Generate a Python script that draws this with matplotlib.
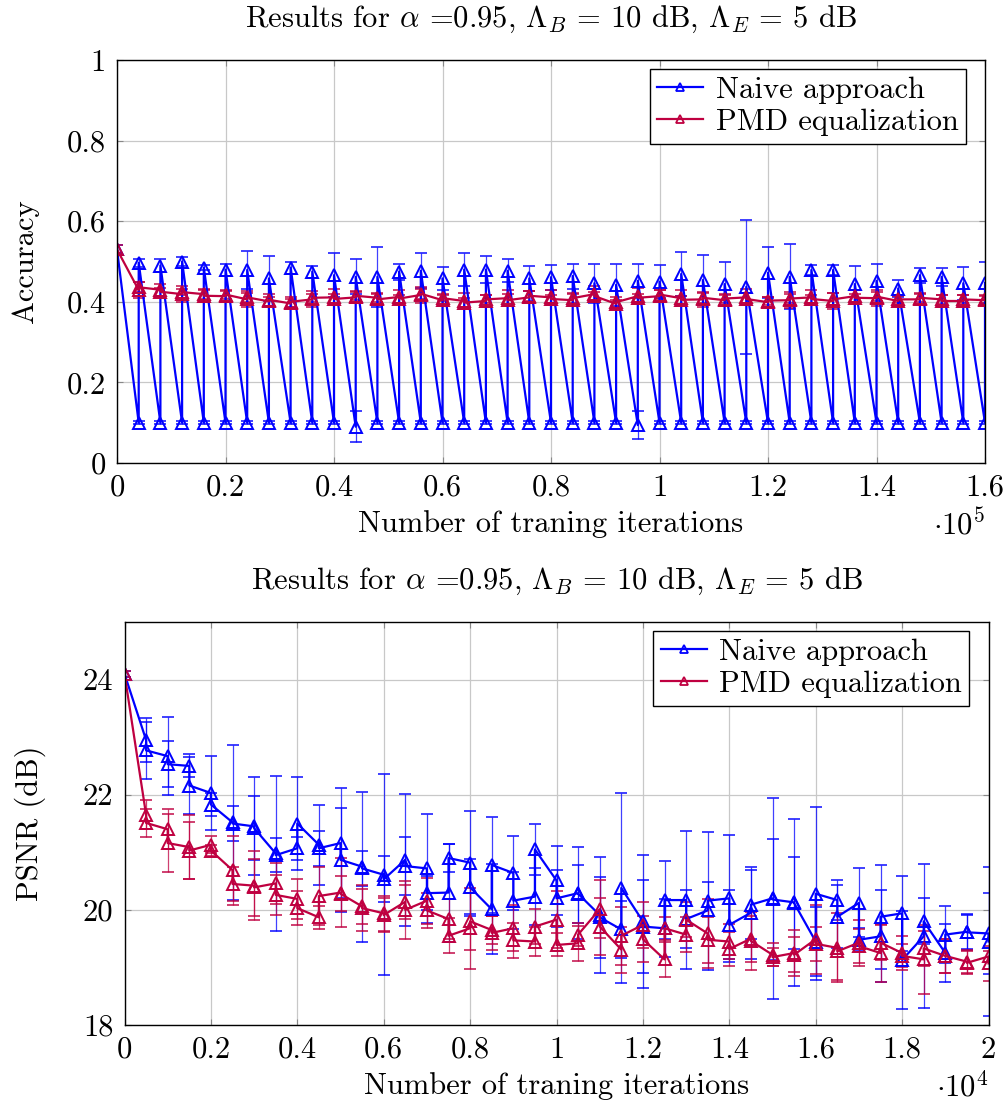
import numpy as np
import matplotlib
matplotlib.use("Agg")
import matplotlib.pyplot as plt
from matplotlib.ticker import FuncFormatter
from matplotlib.lines import Line2D

plt.rcParams['font.family'] = 'serif'
plt.rcParams['font.serif'] = ['cmr10', 'DejaVu Serif']
plt.rcParams['mathtext.fontset'] = 'cm'
plt.rcParams['axes.formatter.use_mathtext'] = True
plt.rcParams['axes.unicode_minus'] = False

BLUE = '#0000ff'
RED = '#bf0040'
FS = 22

# ---------------- accuracy data (top) ----------------
acc_iters = list(range(4000, 160001, 4000))
acc_start = 0.53
naive_acc_low = [0.1, 0.1, 0.1, 0.1, 0.1, 0.1, 0.1, 0.1, 0.1, 0.1,
                 0.09, 0.1, 0.1, 0.1, 0.1, 0.1, 0.1, 0.1, 0.1, 0.1,
                 0.1, 0.1, 0.1, 0.094, 0.1, 0.1, 0.1, 0.1, 0.1, 0.1,
                 0.1, 0.1, 0.1, 0.1, 0.1, 0.1, 0.1, 0.1, 0.1, 0.1]
naive_acc_low_err = [0.004] * 10 + [0.038] + [0.004] * 12 + [0.035] + [0.004] * 16
naive_acc_high = [0.497, 0.490, 0.500, 0.485, 0.480, 0.479, 0.458, 0.485, 0.475, 0.466,
                  0.462, 0.462, 0.475, 0.477, 0.458, 0.480, 0.480, 0.477, 0.458, 0.461,
                  0.464, 0.446, 0.442, 0.452, 0.450, 0.469, 0.454, 0.444, 0.437, 0.472,
                  0.462, 0.479, 0.479, 0.444, 0.452, 0.433, 0.466, 0.462, 0.446, 0.447]
naive_acc_high_err = [0.010, 0.016, 0.010, 0.006, 0.015, 0.048, 0.056, 0.015, 0.015, 0.054,
                      0.043, 0.075, 0.020, 0.043, 0.029, 0.040, 0.034, 0.029, 0.031, 0.031,
                      0.031, 0.048, 0.052, 0.043, 0.041, 0.054, 0.061, 0.054, 0.166, 0.063,
                      0.081, 0.012, 0.012, 0.044, 0.043, 0.021, 0.019, 0.023, 0.041, 0.053]
pmd_acc_a = [0.429, 0.430, 0.419, 0.419, 0.414, 0.406, 0.401, 0.396, 0.406, 0.411,
             0.411, 0.410, 0.412, 0.417, 0.404, 0.402, 0.402, 0.409, 0.411, 0.411,
             0.404, 0.419, 0.395, 0.414, 0.414, 0.409, 0.406, 0.404, 0.411, 0.399,
             0.404, 0.411, 0.402, 0.414, 0.409, 0.402, 0.406, 0.406, 0.402, 0.404]
pmd_acc_b = [0.436, 0.425, 0.424, 0.415, 0.418, 0.411, 0.405, 0.400, 0.410, 0.407,
             0.415, 0.406, 0.408, 0.420, 0.409, 0.398, 0.406, 0.404, 0.415, 0.407,
             0.409, 0.414, 0.399, 0.410, 0.418, 0.405, 0.410, 0.408, 0.407, 0.403,
             0.408, 0.407, 0.406, 0.410, 0.413, 0.406, 0.410, 0.402, 0.406, 0.408]
pmd_acc_a_err = [0.02, 0.015, 0.02, 0.012, 0.015, 0.02, 0.012, 0.01, 0.02, 0.02,
                 0.015, 0.01, 0.018, 0.02, 0.015, 0.02, 0.015, 0.02, 0.015, 0.018,
                 0.015, 0.02, 0.01, 0.02, 0.015, 0.02, 0.018, 0.015, 0.02, 0.012,
                 0.02, 0.018, 0.02, 0.015, 0.02, 0.012, 0.015, 0.012, 0.015, 0.01]
pmd_acc_b_err = [0.012, 0.01, 0.008, 0.015, 0.01, 0.012, 0.015, 0.012, 0.01, 0.012,
                 0.01, 0.015, 0.01, 0.012, 0.008, 0.012, 0.01, 0.015, 0.012, 0.01,
                 0.012, 0.01, 0.012, 0.01, 0.012, 0.01, 0.012, 0.01, 0.015, 0.01,
                 0.012, 0.01, 0.015, 0.01, 0.012, 0.01, 0.01, 0.015, 0.01, 0.01]

# ---------------- PSNR data (bottom) ----------------
psnr_iters = list(range(500, 20001, 500))
psnr_start = 24.10
naive_psnr_a = [22.95, 22.67, 22.50, 22.03, 21.52, 21.45, 20.98, 21.07, 21.13, 21.16,
                20.75, 20.61, 20.87, 20.72, 20.30, 20.82, 20.01, 20.64, 20.23, 20.51,
                20.29, 19.91, 19.66, 19.80, 19.68, 20.17, 19.99, 20.20, 19.95, 20.20,
                20.13, 19.45, 20.17, 20.12, 19.54, 19.94, 19.54, 19.25, 19.62, 19.59]
naive_psnr_b = [22.77, 22.53, 22.16, 21.83, 21.50, 21.42, 20.95, 21.50, 21.07, 20.87,
                20.72, 20.53, 20.76, 20.29, 20.90, 20.39, 20.78, 20.16, 21.05, 20.20,
                20.28, 19.87, 20.38, 19.71, 20.17, 19.84, 20.16, 19.74, 20.09, 20.18,
                20.12, 20.28, 19.88, 19.48, 19.88, 19.13, 19.80, 19.57, 19.61, 19.45]
naive_psnr_a_err = [0.38, 0.68, 0.20, 0.65, 1.35, 0.85, 1.34, 0.20, 0.70, 0.95,
                    1.30, 1.75, 1.15, 0.95, 0.85, 0.90, 0.78, 0.65, 0.50, 0.60,
                    0.80, 1.00, 0.50, 1.15, 0.50, 1.20, 0.50, 1.10, 0.80, 1.75,
                    1.45, 0.60, 0.35, 0.60, 0.80, 0.65, 1.25, 0.50, 0.30, 0.70]
naive_psnr_b_err = [0.50, 0.40, 0.50, 0.20, 0.30, 0.55, 0.30, 0.80, 0.30, 0.90,
                    0.30, 0.40, 0.50, 0.30, 0.25, 0.50, 0.84, 0.50, 0.45, 0.50,
                    0.50, 0.70, 1.65, 0.80, 0.68, 0.50, 1.20, 0.60, 0.60, 1.05,
                    0.80, 1.50, 0.55, 0.20, 0.90, 0.85, 0.40, 0.50, 0.30, 1.30]
pmd_psnr_a = [21.65, 21.40, 21.09, 21.13, 20.69, 20.42, 20.46, 20.19, 19.87, 20.30,
              20.06, 19.94, 20.14, 20.16, 19.84, 19.68, 19.65, 19.68, 19.45, 19.83,
              19.42, 20.01, 19.31, 19.74, 19.14, 19.57, 19.59, 19.45, 19.50, 19.22,
              19.25, 19.49, 19.34, 19.43, 19.25, 19.25, 19.14, 19.20, 19.10, 19.19]
pmd_psnr_b = [21.51, 21.16, 21.03, 21.03, 20.45, 20.39, 20.26, 20.03, 20.24, 20.28,
              20.03, 19.91, 20.00, 19.99, 19.55, 19.80, 19.60, 19.47, 19.71, 19.39,
              19.57, 19.71, 19.55, 19.49, 19.68, 19.83, 19.48, 19.32, 19.46, 19.18,
              19.22, 19.41, 19.28, 19.37, 19.43, 19.20, 19.33, 19.20, 19.08, 19.07]
pmd_psnr_a_err = [0.25, 0.35, 0.55, 0.15, 0.60, 0.60, 0.35, 0.35, 0.20, 0.60,
                  0.30, 0.30, 0.30, 0.40, 0.35, 0.70, 0.25, 0.40, 0.25, 0.50,
                  0.30, 0.50, 0.40, 0.40, 0.30, 0.30, 0.60, 0.30, 0.40, 0.20,
                  0.40, 0.60, 0.60, 0.40, 0.50, 0.30, 0.60, 0.30, 0.20, 0.10]
pmd_psnr_b_err = [0.25, 0.50, 0.50, 0.10, 0.30, 0.50, 0.35, 0.30, 0.50, 0.30,
                  0.40, 0.30, 0.50, 0.30, 0.30, 0.50, 0.30, 0.30, 0.30, 0.20,
                  0.20, 0.50, 0.50, 0.40, 0.20, 0.30, 0.40, 0.30, 0.50, 0.15,
                  0.30, 0.30, 0.50, 0.30, 0.30, 0.20, 0.30, 0.30, 0.20, 0.30]


def zigzag(iters, start, a, b):
    # every iteration count holds two runs; the line goes through both
    x = np.concatenate([[0], np.repeat(iters, 2)])
    y = np.concatenate([[start], np.column_stack([a, b]).ravel()])
    return x, y


def draw(ax, x, y, err, color):
    ax.errorbar(x, y, yerr=err, color=color, ecolor=matplotlib.colors.to_rgba(color, 0.75),
                lw=1.6, elinewidth=0.9, capsize=4, capthick=0.9,
                marker='^', ms=8.5, mfc='none', mec=color, mew=1.4)


def style(ax, scale, xmax, ylabel, ylab_x):
    ax.grid(True, color='#c8c8c8', lw=0.9)
    ax.set_axisbelow(True)
    ax.tick_params(direction='in', top=True, right=True, length=4, color='#888888',
                   labelsize=FS, pad=8)
    ax.xaxis.set_major_formatter(FuncFormatter(lambda v, p: '%g' % round(v / scale, 3)))
    ax.yaxis.set_major_formatter(FuncFormatter(lambda v, p: '%g' % round(v, 3)))
    for s in ax.spines.values():
        s.set_linewidth(1.0)
    ax.set_xlim(0, xmax)
    ax.set_ylabel(ylabel, fontsize=FS, va='center', ha='center')
    ax.yaxis.set_label_coords(ylab_x, 0.5)
    ax.set_xlabel('Number of traning iterations', fontsize=FS, va='center')
    ax.xaxis.set_label_coords(0.5, -0.152)
    ax.text(1.0, -0.152, r'$\cdot 10^{%d}$' % int(np.log10(scale)), transform=ax.transAxes,
            ha='right', va='center', fontsize=FS)
    ax.set_title(r'Results for $\alpha$ =0.95, $\Lambda_B$ = 10 dB, $\Lambda_E$ = 5 dB',
                 fontsize=FS, pad=24)
    handles = [Line2D([], [], color=BLUE, lw=1.6, marker='^', ms=5.5, mfc='none', mew=1.3),
               Line2D([], [], color=RED, lw=1.6, marker='^', ms=5.5, mfc='none', mew=1.3)]
    leg = ax.legend(handles, ['Naive approach', 'PMD equalization'],
                    loc='upper right', bbox_to_anchor=(0.978, 0.978), borderaxespad=0,
                    fontsize=FS, fancybox=False, edgecolor='black', framealpha=1,
                    handlelength=1.5, borderpad=0.25,
                    labelspacing=0.15, handletextpad=0.4)
    leg.get_frame().set_linewidth(1.0)


fig = plt.figure(figsize=(10.05, 11.09), dpi=100)

# top chart
ax1 = fig.add_axes([117 / 1005, 1 - 463 / 1109, 868 / 1005, 403 / 1109])
x, y = zigzag(acc_iters, acc_start, naive_acc_low, naive_acc_high)
_, e = zigzag(acc_iters, 0.01, naive_acc_low_err, naive_acc_high_err)
draw(ax1, x, y, e, BLUE)
x, y = zigzag(acc_iters, acc_start, pmd_acc_a, pmd_acc_b)
_, e = zigzag(acc_iters, 0.01, pmd_acc_a_err, pmd_acc_b_err)
draw(ax1, x, y, e, RED)
ax1.set_ylim(0, 1)
ax1.set_yticks([0, 0.2, 0.4, 0.6, 0.8, 1.0])
ax1.set_xticks(np.arange(0, 160001, 20000))
style(ax1, 1e5, 160000, 'Accuracy', -0.106)

# bottom chart
ax2 = fig.add_axes([124.5 / 1005, 1 - 1025 / 1109, 864 / 1005, 403 / 1109])
x, y = zigzag(psnr_iters, psnr_start, naive_psnr_a, naive_psnr_b)
_, e = zigzag(psnr_iters, 0.05, naive_psnr_a_err, naive_psnr_b_err)
draw(ax2, x, y, e, BLUE)
x, y = zigzag(psnr_iters, psnr_start, pmd_psnr_a, pmd_psnr_b)
_, e = zigzag(psnr_iters, 0.05, pmd_psnr_a_err, pmd_psnr_b_err)
draw(ax2, x, y, e, RED)
ax2.set_ylim(18, 25)
ax2.set_yticks([18, 20, 22, 24])
ax2.set_xticks(np.arange(0, 20001, 2000))
style(ax2, 1e4, 20000, 'PSNR (dB)', -0.109)

fig.savefig('out.png', dpi=100)
